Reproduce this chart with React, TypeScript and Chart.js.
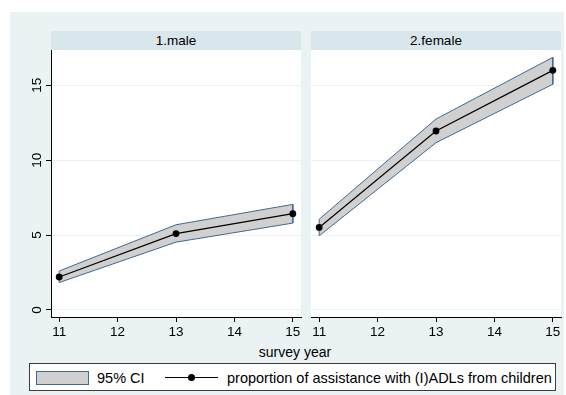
import React, { useEffect, useRef } from 'react';
import { Chart, registerables } from 'chart.js';

Chart.register(...registerables);

// ---- data ----
const years = [11, 13, 15];
const maleEstimate = [2.2, 5.1, 6.43];
const maleLower = [1.83, 4.53, 5.8];
const maleUpper = [2.6, 5.69, 7.05];
const femaleEstimate = [5.51, 11.95, 16.0];
const femaleLower = [4.95, 11.17, 15.07];
const femaleUpper = [6.06, 12.75, 16.87];
const yTicks = [0, 5, 10, 15];
const xTicks = [11, 12, 13, 14, 15];
const panelTitles = ['1.male', '2.female'];
const xTitle = 'survey year';
const legendLabels = ['95% CI', 'proportion of assistance with (I)ADLs from children'];

const FONT = "'Liberation Sans', Arial, Helvetica, sans-serif";
const BAND_FILL = '#d0d0d0';
const BAND_EDGE = '#3f6a94';
const GRID = '#eaf2f3';
const OUTER_BG = '#eaf2f3';
const STRIP_BG = '#d9e6eb';

function bandPoints(lower: number[], upper: number[]) {
  const top = years.map((x, i) => ({ x, y: upper[i] }));
  const bottom = years.map((x, i) => ({ x, y: lower[i] })).reverse();
  return [...top, ...bottom, top[0]];
}

const whiteArea = {
  id: 'whiteArea',
  beforeDraw(chart: any) {
    const { ctx, chartArea } = chart;
    ctx.save();
    ctx.fillStyle = '#ffffff';
    ctx.fillRect(chartArea.left, chartArea.top, chartArea.right - chartArea.left, chartArea.bottom - chartArea.top);
    ctx.restore();
  },
};

type PanelProps = {
  estimate: number[];
  lower: number[];
  upper: number[];
  showY: boolean;
  left: number;
  width: number;
};

function Panel({ estimate, lower, upper, showY, left, width }: PanelProps) {
  const ref = useRef<HTMLCanvasElement | null>(null);
  useEffect(() => {
    if (!ref.current) return;
    const chart = new Chart(ref.current, {
      type: 'line',
      data: {
        datasets: [
          {
            label: legendLabels[1],
            data: years.map((x, i) => ({ x, y: estimate[i] })),
            borderColor: '#000',
            backgroundColor: '#000',
            borderWidth: 1.2,
            pointRadius: 3.4,
            pointBackgroundColor: '#000',
            pointBorderWidth: 0,
            tension: 0,
            fill: false,
          },
          {
            label: legendLabels[0],
            data: bandPoints(lower, upper),
            borderColor: BAND_EDGE,
            backgroundColor: BAND_FILL,
            borderWidth: 1,
            pointRadius: 0,
            tension: 0,
            fill: 'shape' as any,
          },
        ],
      },
      options: {
        animation: false,
        responsive: false,
        events: [],
        layout: { padding: { top: 12, right: 5, bottom: 0, left: showY ? 0 : 5 } },
        plugins: { legend: { display: false }, tooltip: { enabled: false } },
        scales: {
          x: {
            type: 'linear',
            min: 10.86,
            max: 15.14,
            afterBuildTicks: (axis: any) => {
              axis.ticks = xTicks.map((v) => ({ value: v }));
            },
            afterFit: (axis: any) => {
              axis.height = 21;
            },
            grid: { drawOnChartArea: false, drawTicks: true, tickLength: 5, color: '#000', tickColor: '#000' },
            border: { display: true, color: '#000', width: 1 },
            ticks: { color: '#000', font: { family: FONT, size: 13.5 }, padding: 2, maxRotation: 0, autoSkip: false },
          },
          y: {
            type: 'linear',
            min: -0.47,
            max: 17.36,
            afterBuildTicks: (axis: any) => {
              axis.ticks = yTicks.map((v) => ({ value: v }));
            },
            afterFit: (axis: any) => {
              axis.width = showY ? 41 : 0;
            },
            grid: {
              color: GRID,
              lineWidth: 1,
              drawTicks: showY,
              tickLength: 5,
              tickColor: '#000',
            },
            border: { display: showY, color: '#000', width: 1 },
            ticks: {
              display: showY,
              color: '#000',
              font: { family: FONT, size: 13.5 },
              padding: 1,
              minRotation: 90,
              maxRotation: 90,
              crossAlign: 'center',
            },
          },
        },
      },
      plugins: [whiteArea],
    } as any);
    return () => chart.destroy();
  }, []);
  return (
    <canvas
      ref={ref}
      width={width}
      height={300}
      style={{ position: 'absolute', left, top: 38, width, height: 300 }}
    />
  );
}

export default function App() {
  useEffect(() => {
    document.body.style.margin = '0';
  }, []);
  const textBase: React.CSSProperties = { position: 'absolute', fontFamily: FONT, color: '#000', whiteSpace: 'nowrap' };
  return (
    <div style={{ position: 'absolute', left: 0, top: 0, width: 566, height: 395, background: '#fff', overflow: 'hidden' }}>
      <div style={{ position: 'absolute', left: 10, top: 12, width: 554, height: 383, background: OUTER_BG }} />
      <Panel estimate={maleEstimate} lower={maleLower} upper={maleUpper} showY={true} left={10} width={296} />
      <Panel estimate={femaleEstimate} lower={femaleLower} upper={femaleUpper} showY={false} left={306} width={260} />
      {panelTitles.map((t, i) => (
        <div
          key={t}
          style={{
            ...textBase,
            left: i === 0 ? 51 : 311,
            top: 31,
            width: 250,
            height: 19,
            lineHeight: '19px',
            textAlign: 'center',
            fontSize: 13.5,
            background: STRIP_BG,
          }}
        >
          {t}
        </div>
      ))}
      <div style={{ ...textBase, left: 195, top: 343, width: 200, textAlign: 'center', fontSize: 14, lineHeight: '18px' }}>
        {xTitle}
      </div>
      <div
        style={{
          position: 'absolute',
          left: 29,
          top: 363,
          width: 527,
          height: 28,
          boxSizing: 'border-box',
          border: '1px solid #3c3c3c',
          background: '#fff',
        }}
      />
      <div
        style={{
          position: 'absolute',
          left: 36,
          top: 371,
          width: 53,
          height: 14,
          boxSizing: 'border-box',
          border: `1px solid ${BAND_EDGE}`,
          background: BAND_FILL,
        }}
      />
      <div style={{ ...textBase, left: 97, top: 368, fontSize: 14.5, lineHeight: '20px' }}>{legendLabels[0]}</div>
      <div style={{ position: 'absolute', left: 165, top: 377, width: 53, height: 1.2, background: '#000' }} />
      <div style={{ position: 'absolute', left: 188, top: 374, width: 7, height: 7, borderRadius: '50%', background: '#000' }} />
      <div style={{ ...textBase, left: 227, top: 368, fontSize: 14.5, lineHeight: '20px' }}>{legendLabels[1]}</div>
    </div>
  );
}
